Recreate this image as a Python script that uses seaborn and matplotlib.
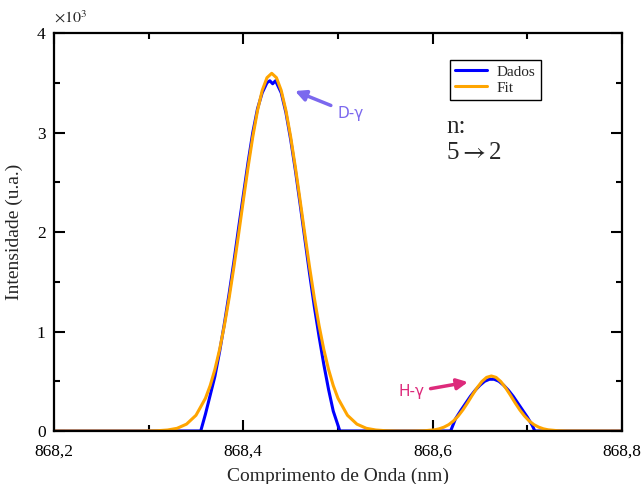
import numpy as np
import pandas as pd
import seaborn as sns
import matplotlib.pyplot as plt
from matplotlib.ticker import MultipleLocator, FuncFormatter

# Measured spectrum (nm, counts)
dados_x = [868.20, 868.355, 868.36, 868.365, 868.37, 868.375, 868.38, 868.385, 868.39,
           868.395, 868.40, 868.405, 868.41, 868.415, 868.42, 868.425, 868.428, 868.431,
           868.434, 868.44, 868.445, 868.45, 868.455, 868.46, 868.465, 868.47, 868.475,
           868.48, 868.485, 868.49, 868.495, 868.502,
           868.619, 868.624, 868.63, 868.635, 868.64, 868.645, 868.65, 868.655, 868.66,
           868.665, 868.67, 868.675, 868.68, 868.685, 868.69, 868.695, 868.70, 868.705,
           868.708, 868.80]
dados_y = [0, 0, 170, 360, 550, 800, 1080, 1380, 1700,
           2040, 2370, 2700, 3000, 3240, 3400, 3500, 3520, 3490,
           3520, 3400, 3200, 2930, 2620, 2280, 1930, 1580, 1250,
           950, 670, 420, 200, 0,
           0, 120, 210, 280, 350, 410, 460, 500, 520,
           520, 500, 460, 410, 350, 280, 210, 140, 60,
           0, 0]

# Gaussian fit curve (nm, counts)
fit_x = [868.20, 868.29, 868.30, 868.31, 868.32, 868.33, 868.34, 868.35, 868.36, 868.365,
         868.37, 868.375, 868.38, 868.385, 868.39, 868.395, 868.40, 868.405, 868.41,
         868.415, 868.42, 868.425, 868.43, 868.435, 868.44, 868.445, 868.45, 868.455,
         868.46, 868.465, 868.47, 868.475, 868.48, 868.485, 868.49, 868.495, 868.50,
         868.51, 868.52, 868.53, 868.54, 868.55, 868.56, 868.57,
         868.582, 868.592, 868.602, 868.607, 868.612, 868.617, 868.622, 868.627, 868.632,
         868.637, 868.642, 868.647, 868.652, 868.657, 868.662, 868.667, 868.672, 868.677,
         868.682, 868.687, 868.692, 868.697, 868.702, 868.707, 868.712, 868.717, 868.722,
         868.732, 868.742, 868.80]
fit_y = [0, 0, 1, 3, 10, 27, 69, 158, 329, 457,
         620, 821, 1061, 1337, 1646, 1977, 2317, 2650, 2957,
         3221, 3424, 3551, 3595, 3551, 3424, 3221, 2957, 2650,
         2317, 1977, 1646, 1337, 1061, 821, 620, 457, 329,
         158, 69, 27, 10, 3, 1, 0,
         1, 3, 12, 22, 39, 64, 101, 151, 213,
         285, 362, 435, 497, 539, 553, 539, 497, 435,
         362, 285, 213, 151, 101, 64, 39, 22, 12,
         3, 1, 0]

df_dados = pd.DataFrame({'x': dados_x, 'y': dados_y})
df_fit = pd.DataFrame({'x': fit_x, 'y': fit_y})

sns.set_style('ticks')
plt.rcParams['font.family'] = ['Liberation Serif', 'DejaVu Serif']
plt.rcParams['mathtext.fontset'] = 'stix'

fig = plt.figure(figsize=(6.42, 4.84), dpi=100)
ax = fig.add_axes([0.0841, 0.1095, 0.8847, 0.8223])

sns.lineplot(data=df_dados, x='x', y='y', ax=ax, color='#0000ff', lw=2.2, label='Dados')
sns.lineplot(data=df_fit, x='x', y='y', ax=ax, color='#ffa500', lw=2.2, label='Fit')

ax.set_xlim(868.2, 868.8)
ax.set_ylim(0, 4000)
ax.xaxis.set_major_locator(MultipleLocator(0.2))
ax.xaxis.set_minor_locator(MultipleLocator(0.1))
ax.yaxis.set_major_locator(MultipleLocator(1000))
ax.yaxis.set_minor_locator(MultipleLocator(500))
ax.xaxis.set_major_formatter(FuncFormatter(lambda v, p: f'{v:.1f}'.replace('.', ',')))
ax.yaxis.set_major_formatter(FuncFormatter(lambda v, p: f'{v / 1000:g}'))
ax.tick_params(which='both', direction='in', top=True, right=True, width=1.5,
               labelsize=12.5, colors='black')
ax.tick_params(axis='x', pad=9)
ax.tick_params(axis='y', pad=6)
ax.tick_params(which='major', length=8)
ax.tick_params(which='minor', length=4)
for s in ax.spines.values():
    s.set_linewidth(1.6)
    s.set_color('black')
    s.set_zorder(5)

ax.text(0.0, 1.015, r'$\times10^3$', transform=ax.transAxes, fontsize=11.5, ha='left', va='bottom')

ax.set_xlabel('Comprimento de Onda (nm)', fontsize=14, labelpad=6)
ax.set_ylabel('Intensidade (u.a.)', fontsize=14, labelpad=10)

leg = ax.legend(loc='upper left', bbox_to_anchor=(0.697, 0.933), fontsize=11,
                frameon=True, fancybox=False, edgecolor='black', framealpha=1,
                handlelength=2.1, handletextpad=0.6, borderpad=0.35, labelspacing=0.15,
                borderaxespad=0)
leg.get_frame().set_linewidth(1.0)

ax.text(0.69, 0.765, 'n:', transform=ax.transAxes, fontsize=18, ha='left', va='center')
ax.text(0.69, 0.698, r'5$\rightarrow$2', transform=ax.transAxes, fontsize=18, ha='left', va='center')

ax.annotate('D-γ', xy=(868.4546, 3417), xytext=(868.50, 3190), fontsize=11,
            color='#7b68ee', family='DejaVu Sans', ha='left', va='center',
            arrowprops=dict(arrowstyle='-|>', color='#7b68ee', lw=2.5, mutation_scale=16,
                            shrinkA=3, shrinkB=0))
ax.annotate('H-γ', xy=(868.6373, 492), xytext=(868.5777, 392), fontsize=11,
            color='#dd2a7b', family='DejaVu Sans', ha='center', va='center',
            arrowprops=dict(arrowstyle='-|>', color='#dd2a7b', lw=2.5, mutation_scale=16,
                            shrinkA=2, shrinkB=0))

plt.savefig('out.png', dpi=100)
